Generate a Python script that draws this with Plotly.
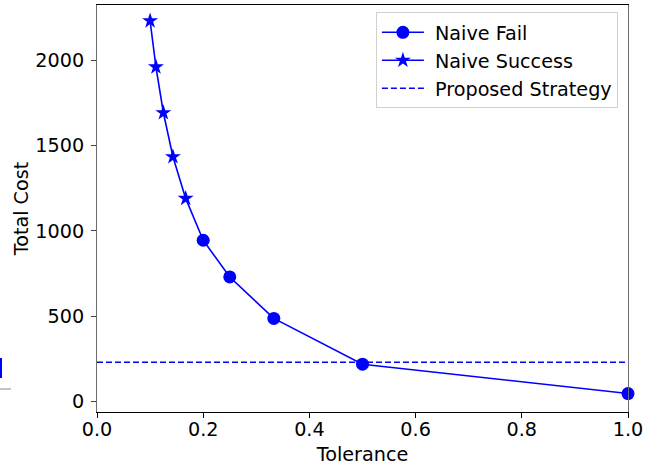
import plotly.graph_objects as go

# Data
success_tol = [0.1, 0.111, 0.125, 0.143, 0.167]
success_cost = [2230, 1960, 1692, 1434, 1190]
fail_tol = [0.2, 0.25, 0.333, 0.5, 1.0]
fail_cost = [945, 730, 487, 219, 47]
proposed_cost = 230
x_ticks = [0.0, 0.2, 0.4, 0.6, 0.8, 1.0]
y_ticks = [0, 500, 1000, 1500, 2000]

BLUE = "#0000ff"
FONT = "DejaVu Sans"
FS = 19.2

fig = go.Figure()

# connector between the two marker series (no legend)
fig.add_trace(go.Scatter(
    x=[success_tol[-1], fail_tol[0]], y=[success_cost[-1], fail_cost[0]],
    mode="lines", line=dict(color=BLUE, width=1.6), showlegend=False, hoverinfo="skip"))

fig.add_trace(go.Scatter(
    x=fail_tol, y=fail_cost, mode="lines+markers", name=" Naive Fail",
    legendgroup="a",
    line=dict(color=BLUE, width=1.6),
    marker=dict(symbol="circle", size=13, color=BLUE, line=dict(width=0)),
    cliponaxis=False))

fig.add_trace(go.Scatter(
    x=success_tol, y=success_cost, mode="lines+markers", name=" Naive Success",
    legendgroup="b",
    line=dict(color=BLUE, width=1.6),
    marker=dict(symbol="star", size=12, color=BLUE, line=dict(width=0)),
    cliponaxis=False))

fig.add_trace(go.Scatter(
    x=[0, 1], y=[proposed_cost, proposed_cost], mode="lines", name=" Proposed Strategy",
    legendgroup="c",
    line=dict(color=BLUE, width=1.6, dash="6px,3px")))

fig.update_layout(
    width=655, height=467,
    margin=dict(l=97, r=27, t=5, b=55),
    paper_bgcolor="white", plot_bgcolor="white",
    font=dict(family=FONT, size=FS, color="black"),
    legend=dict(
        x=0.981, y=0.982, xanchor="right", yanchor="top",
        bgcolor="rgba(255,255,255,0.8)", bordercolor="#d0d0d0", borderwidth=1,
        font=dict(family=FONT, size=FS), traceorder="grouped", tracegroupgap=0,
        itemwidth=42),
    showlegend=True,
)

fig.update_xaxes(
    range=[0, 1], tickvals=x_ticks, ticktext=[f"{v:.1f}" for v in x_ticks],
    showgrid=False, zeroline=False,
    showline=True, linecolor="black", linewidth=1, mirror=True,
    ticks="outside", ticklen=5, tickcolor="black", tickwidth=1,
    title=dict(text="Tolerance", font=dict(family=FONT, size=FS), standoff=7),
    ticklabelstandoff=-5,
)
fig.update_yaxes(
    range=[-61, 2323], tickvals=y_ticks, ticktext=[str(v) for v in y_ticks],
    showgrid=False, zeroline=False,
    showline=True, linecolor="#6e6e6e", linewidth=1, mirror=True,
    ticks="outside", ticklen=5, tickcolor="#444", tickwidth=1,
    title=dict(text="Total Cost", font=dict(family=FONT, size=FS), standoff=1),
    ticklabelstandoff=3,
)

# cropped fragments of a neighbouring figure at the left edge
fig.add_shape(type="line", xref="paper", yref="paper",
              x0=-97/531, x1=-86/531, y0=(412-389)/407, y1=(412-389)/407,
              line=dict(color="#888888", width=1))
fig.add_shape(type="line", xref="paper", yref="paper",
              x0=-96/531, x1=-96/531, y0=(412-378)/407, y1=(412-358)/407,
              line=dict(color=BLUE, width=2))

fig.write_html("out.html")
